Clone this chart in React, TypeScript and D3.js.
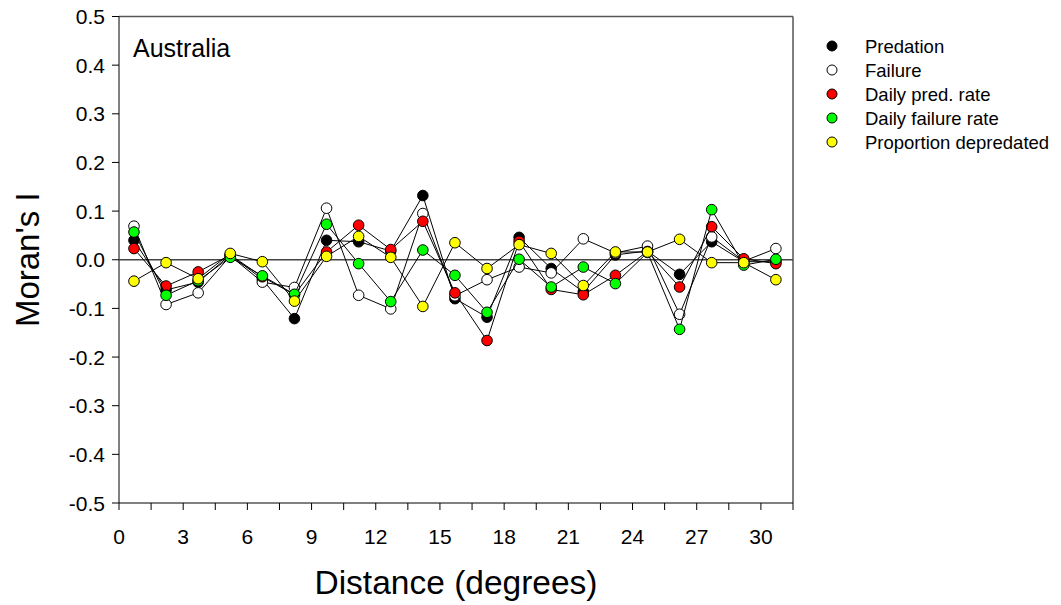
import React from "react";
import * as d3 from "d3";

const distances = [0.7, 2.2, 3.7, 5.2, 6.7, 8.2, 9.7, 11.2, 12.7, 14.2, 15.7, 17.2, 18.7, 20.2, 21.7, 23.2, 24.7, 26.2, 27.7, 29.2, 30.7];
const predation = [0.040, -0.062, -0.046, 0.010, -0.040, -0.121, 0.040, 0.037, 0.018, 0.132, -0.080, -0.118, 0.046, -0.018, -0.066, 0.010, 0.018, -0.030, 0.037, -0.004, -0.004];
const failure = [0.069, -0.092, -0.068, 0.008, -0.046, -0.057, 0.106, -0.073, -0.101, 0.095, -0.074, -0.041, -0.015, -0.027, 0.043, 0.014, 0.028, -0.112, 0.047, -0.003, 0.023];
const dailyPredRate = [0.023, -0.054, -0.025, 0.010, -0.035, -0.072, 0.016, 0.071, 0.021, 0.079, -0.068, -0.166, 0.038, -0.061, -0.072, -0.032, 0.017, -0.056, 0.068, 0.002, -0.008];
const dailyFailureRate = [0.057, -0.073, -0.043, 0.005, -0.033, -0.071, 0.073, -0.008, -0.086, 0.020, -0.032, -0.108, 0.001, -0.056, -0.015, -0.049, 0.015, -0.143, 0.103, -0.011, 0.001];
const proportionDepredated = [-0.044, -0.006, -0.039, 0.013, -0.004, -0.085, 0.007, 0.048, 0.005, -0.096, 0.035, -0.018, 0.031, 0.013, -0.053, 0.016, 0.016, 0.042, -0.006, -0.006, -0.041];

const seriesNames = ["Predation", "Failure", "Daily pred. rate", "Daily failure rate", "Proportion depredated"];
const seriesColors = ["#000000", "#ffffff", "#ff0000", "#00ff00", "#ffff00"];
const seriesValues = [predation, failure, dailyPredRate, dailyFailureRate, proportionDepredated];

const xTicksMajor = [0, 3, 6, 9, 12, 15, 18, 21, 24, 27, 30];
const xTicksMinor = [1.5, 4.5, 7.5, 10.5, 13.5, 16.5, 19.5, 22.5, 25.5, 28.5];
const yTicks = [-0.5, -0.4, -0.3, -0.2, -0.1, 0.0, 0.1, 0.2, 0.3, 0.4, 0.5];

const FONT = "'Liberation Sans', Arial, sans-serif";

export default function App() {
  const left = 119, right = 793, top = 16.5, bottom = 503;
  const x = d3.scaleLinear().domain([0, 31.5]).range([left, right]);
  const y = d3.scaleLinear().domain([-0.5, 0.5]).range([bottom, top]);
  const line = d3.line<number>().x((_, i) => x(distances[i])).y((d) => y(d));

  return (
    <svg width={1061} height={605} style={{ position: "absolute", left: 0, top: 0, background: "#fff" }} fontFamily={FONT}>
      <rect x={0} y={0} width={1061} height={605} fill="#fff" />
      <line x1={left} x2={right} y1={top} y2={top} stroke="#555" strokeWidth={1.5} />
      <line x1={right} x2={right} y1={top} y2={bottom} stroke="#555" strokeWidth={1.5} />
      <line x1={left} x2={left} y1={top} y2={bottom} stroke="#000" strokeWidth={1} />
      <line x1={left} x2={right} y1={bottom} y2={bottom} stroke="#000" strokeWidth={1} />
      <line x1={left} x2={right} y1={y(0)} y2={y(0)} stroke="#444" strokeWidth={1.5} />
      {yTicks.map((t) => (
        <g key={"y" + t}>
          <line x1={left - 7} x2={left} y1={y(t)} y2={y(t)} stroke="#000" strokeWidth={1} />
          <text x={left - 14} y={y(t)} textAnchor="end" dominantBaseline="central" fontSize={21}>
            {t.toFixed(1)}
          </text>
        </g>
      ))}
      {xTicksMajor.map((t) => (
        <g key={"x" + t}>
          <line x1={x(t)} x2={x(t)} y1={bottom} y2={bottom + 7} stroke="#000" strokeWidth={1} />
          <text x={x(t)} y={544} textAnchor="middle" fontSize={21}>
            {t}
          </text>
        </g>
      ))}
      {xTicksMinor.map((t) => (
        <line key={"xm" + t} x1={x(t)} x2={x(t)} y1={bottom} y2={bottom + 7} stroke="#000" strokeWidth={1} />
      ))}
      <line x1={right} x2={right} y1={bottom} y2={bottom + 7} stroke="#000" strokeWidth={1} />
      {seriesValues.map((vals, si) => (
        <g key={"s" + si}>
          <path d={line(vals) || ""} fill="none" stroke="#000" strokeWidth={1} />
          {vals.map((v, i) => (
            <circle key={i} cx={x(distances[i])} cy={y(v)} r={5.3} fill={seriesColors[si]} stroke="#000" strokeWidth={1} />
          ))}
        </g>
      ))}
      <text x={133} y={57} fontSize={25}>Australia</text>
      {seriesNames.map((n, i) => (
        <g key={"l" + i}>
          <circle cx={832} cy={46 + i * 24} r={5} fill={seriesColors[i]} stroke="#000" strokeWidth={1} />
          <text x={865} y={46 + i * 24} dominantBaseline="central" fontSize={18.5}>{n}</text>
        </g>
      ))}
      <text x={456} y={594} textAnchor="middle" fontSize={33.5}>Distance (degrees)</text>
      <text transform={`translate(39, ${y(0)}) rotate(-90)`} textAnchor="middle" fontSize={33}>Moran's I</text>
    </svg>
  );
}
